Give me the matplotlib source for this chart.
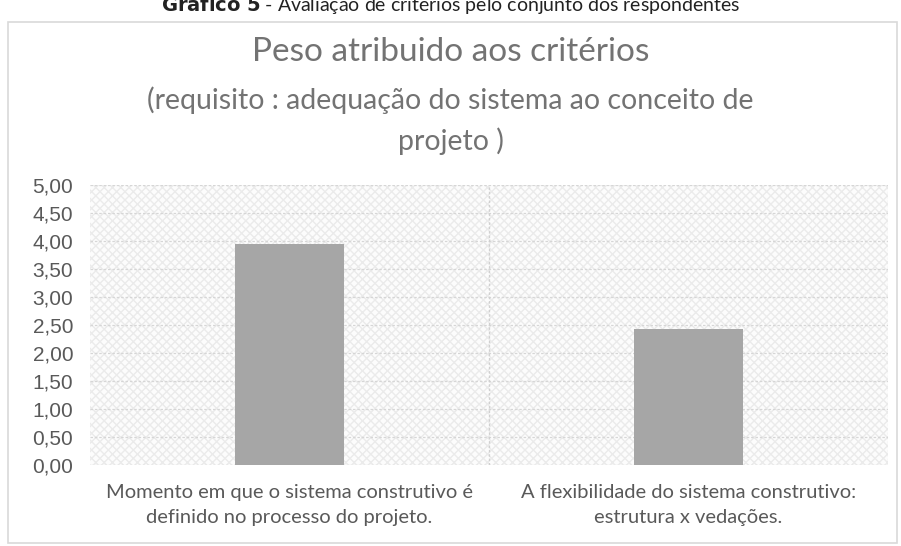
import matplotlib
matplotlib.use("Agg")
import matplotlib.pyplot as plt
from matplotlib.patches import Rectangle
from matplotlib.ticker import FuncFormatter

categories = ["Momento em que o sistema construtivo é\ndefinido no processo do projeto.",
              "A flexibilidade do sistema construtivo:\nestrutura x vedações."]
values = [3.95, 2.43]
yticks = [0, 0.5, 1, 1.5, 2, 2.5, 3, 3.5, 4, 4.5, 5]

W, H = 901, 546
fig = plt.figure(figsize=(W/100, H/100), dpi=100)
fig.patch.set_facecolor("white")

# outer chart frame
fig.add_artist(Rectangle((8/W, 1 - 543/H), (897-8)/W, (543-22)/H, transform=fig.transFigure,
                         fill=False, edgecolor="#d9d9d9", lw=1.2))

# cropped caption at the top
fig.text(0.5, 1 - 4/H, r"$\bf{Gráfico\ 5}$ - Avaliação de critérios pelo conjunto dos respondentes",
         ha="center", va="center", fontsize=14, color="#222222", family="Lato")

ax = fig.add_axes([90/W, 1 - 465/H, (888-90)/W, (465-185)/H])
ax.set_xlim(-0.5, 1.5)
ax.set_ylim(0, 5)

# hatched plot-area background
ax.add_patch(Rectangle((0, 0), 1, 1, transform=ax.transAxes, facecolor="#fcfcfc",
                       edgecolor="#ebebeb", hatch="xxxx", lw=0, zorder=0))
for y in yticks:
    ax.axhline(y, color="#d6d6d6", lw=0.9, ls=(0, (2, 1.5)), zorder=1)
ax.axvline(0.5, color="#d0d0d0", lw=0.9, ls=(0, (2, 1.5)), zorder=1)
ax.axvline(1.5, color="#dcdcdc", lw=0.9, ls=(0, (2, 1.5)), zorder=1)

ax.bar(range(len(values)), values, width=0.275, color="#a6a6a6", zorder=3)

for s in ax.spines.values():
    s.set_visible(False)
ax.set_yticks(yticks)
ax.yaxis.set_major_formatter(FuncFormatter(lambda v, p: f"{v:.2f}".replace(".", ",")))
ax.tick_params(axis="y", length=0, pad=12, labelsize=15, labelcolor="#595959")
for t in ax.get_yticklabels():
    t.set_family("Liberation Sans")
ax.set_xticks(range(len(categories)))
ax.set_xticklabels(categories, family="Lato", fontsize=14.5, color="#595959", linespacing=1.55)
ax.tick_params(axis="x", length=0, pad=14)

title_color = "#737373"
fig.text(0.5, 1 - 52/H, "Peso atribuido aos critérios", ha="center", va="center",
         fontsize=24, color=title_color, family="Lato")
fig.text(0.5, 1 - 100/H, "(requisito : adequação do sistema ao conceito de", ha="center", va="center",
         fontsize=20.5, color=title_color, family="Lato")
fig.text(0.5, 1 - 141/H, "projeto )", ha="center", va="center",
         fontsize=20.5, color=title_color, family="Lato")

fig.savefig("out.png", dpi=100)
